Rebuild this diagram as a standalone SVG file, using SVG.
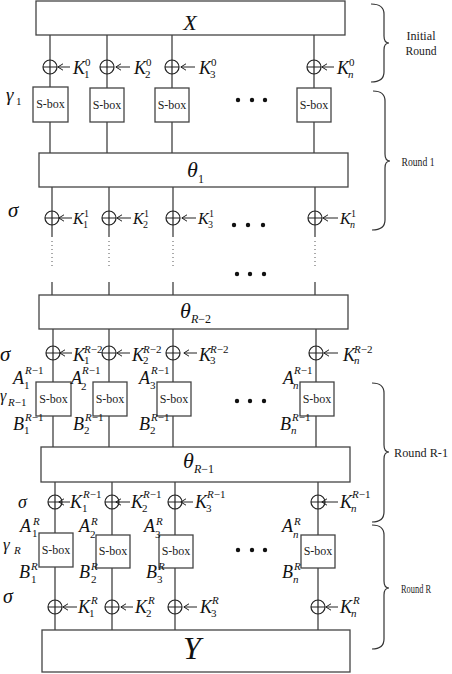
<svg xmlns="http://www.w3.org/2000/svg" width="452" height="674" viewBox="0 0 452 674">
<defs>
<marker id="ah" markerWidth="8" markerHeight="8" refX="1" refY="4" orient="auto" markerUnits="userSpaceOnUse"><path d="M6,0.8 L0.8,4 L6,7.2" fill="none" stroke="#222" stroke-width="1"/></marker>
<style>
.bx{fill:#fff;stroke:#444;stroke-width:1.3}
.ln{stroke:#333;stroke-width:1.2;fill:none}
.dt{stroke:#555;stroke-width:1;stroke-dasharray:1 3;fill:none}
.xc{fill:#fff;stroke:#222;stroke-width:1.2}
.xl{stroke:#222;stroke-width:1.2}
.ar{stroke:#222;stroke-width:1;marker-start:url(#ah)}
.m{font-family:"Liberation Serif",serif;font-style:italic;fill:#111}
.k{font-size:18px}
.s{font-size:11px}
.u{font-style:normal}
.sb{font-family:"Liberation Serif",serif;font-size:12px;fill:#222;text-anchor:middle}
.t{font-family:"Liberation Serif",serif;font-size:13px;fill:#222;text-anchor:middle}
.br{fill:none;stroke:#333;stroke-width:1.2}
.dot{fill:#111}
</style>
</defs>
<rect width="452" height="674" fill="#fff"/>

<g id="connectors">
<path class="ln" d="M50 35V153M107 35V153M172 35V153M314 35V153"/>
<path class="ln" d="M52 187V237M109 187V237M173 187V237M315 187V237"/>
<path class="dt" d="M52 241V268M109 241V268M173 241V268M315 241V268"/>
<path class="ln" d="M52 282V295M109 282V295M173 282V295M315 282V295"/>
<path class="ln" d="M53 329V447M109 329V447M173 329V447M316 329V447"/>
<path class="ln" d="M55 482V630M112 482V630M175 482V630M318 482V630"/>
</g>

<g id="X"><rect class="bx" x="36" y="1" width="309" height="34"/><text class="m" x="190" y="30" font-size="22" text-anchor="middle">X</text></g>
<g id="theta1"><rect class="bx" x="39" y="153" width="309" height="34"/><text class="m" x="187" y="177" font-size="22">θ</text><text class="m u" x="198" y="183" font-size="12">1</text></g>
<g id="thetaR2"><rect class="bx" x="39" y="295" width="309" height="34"/><text class="m" x="180" y="318" font-size="22">θ</text><text class="m" x="191" y="323" font-size="12">R<tspan class="u">−2</tspan></text></g>
<g id="thetaR1"><rect class="bx" x="41" y="447" width="309" height="35"/><text class="m" x="183" y="468" font-size="22">θ</text><text class="m" x="194" y="473" font-size="12">R<tspan class="u">−1</tspan></text></g>
<g id="Y"><rect class="bx" x="42" y="630" width="308" height="42"/><text class="m" x="192" y="659" font-size="32" text-anchor="middle">Y</text></g>

<!-- row 1 XOR -->
<g id="xor0-1"><circle class="xc" cx="50" cy="67" r="7"/><path class="xl" d="M43 67H57M50 60V74"/><line class="ar" x1="58" y1="67" x2="70" y2="67"/><text class="m k" x="73" y="74">K</text><text class="m s u" x="84" y="78">1</text><text class="m s u" x="85" y="66">0</text></g>
<g id="xor0-2"><circle class="xc" cx="107" cy="67" r="7"/><path class="xl" d="M100 67H114M107 60V74"/><line class="ar" x1="116" y1="67" x2="130" y2="67"/><text class="m k" x="134" y="74">K</text><text class="m s u" x="145" y="78">2</text><text class="m s u" x="146" y="66">0</text></g>
<g id="xor0-3"><circle class="xc" cx="172" cy="67" r="7"/><path class="xl" d="M165 67H179M172 60V74"/><line class="ar" x1="181" y1="67" x2="195" y2="67"/><text class="m k" x="199" y="74">K</text><text class="m s u" x="210" y="78">3</text><text class="m s u" x="211" y="66">0</text></g>
<g id="xor0-n"><circle class="xc" cx="314" cy="67" r="7"/><path class="xl" d="M307 67H321M314 60V74"/><line class="ar" x1="322" y1="67" x2="334" y2="67"/><text class="m k" x="337" y="74">K</text><text class="m s" x="348" y="78">n</text><text class="m s u" x="349" y="66">0</text></g>

<!-- row 1 S-boxes -->
<g id="sb1-1"><rect class="bx" x="33" y="87" width="35" height="35"/><text class="sb" x="50.5" y="108">S-box</text></g>
<g id="sb1-2"><rect class="bx" x="90" y="88" width="34" height="34"/><text class="sb" x="107" y="109">S-box</text></g>
<g id="sb1-3"><rect class="bx" x="155" y="88" width="34" height="34"/><text class="sb" x="172" y="109">S-box</text></g>
<g id="sb1-n"><rect class="bx" x="297" y="88" width="34" height="34"/><text class="sb" x="314" y="109">S-box</text></g>
<g id="dots1"><circle class="dot" cx="238" cy="100" r="2.2"/><circle class="dot" cx="252" cy="100" r="2.2"/><circle class="dot" cx="265" cy="100" r="2.2"/></g>
<g id="gamma1"><text class="m" x="6" y="101" font-size="19">γ</text><text class="m s u" x="16" y="105">1</text></g>

<!-- row 2 XOR -->
<g id="sigma1"><text class="m" x="8" y="217" font-size="21">σ</text></g>
<g id="xor1-1"><circle class="xc" cx="52" cy="218" r="7"/><path class="xl" d="M45 218H59M52 211V225"/><line class="ar" x1="59" y1="218" x2="72" y2="218"/><text class="m" x="73" y="224" font-size="16">K</text><text class="m u" x="83" y="228" font-size="10">1</text><text class="m u" x="84" y="217" font-size="10">1</text></g>
<g id="xor1-2"><circle class="xc" cx="109" cy="218" r="7"/><path class="xl" d="M102 218H116M109 211V225"/><line class="ar" x1="117" y1="218" x2="131" y2="218"/><text class="m" x="133" y="224" font-size="16">K</text><text class="m u" x="143" y="228" font-size="10">2</text><text class="m u" x="144" y="217" font-size="10">1</text></g>
<g id="xor1-3"><circle class="xc" cx="173" cy="218" r="7"/><path class="xl" d="M166 218H180M173 211V225"/><line class="ar" x1="182" y1="218" x2="196" y2="218"/><text class="m" x="198" y="224" font-size="16">K</text><text class="m u" x="208" y="228" font-size="10">3</text><text class="m u" x="209" y="217" font-size="10">1</text></g>
<g id="xor1-n"><circle class="xc" cx="315" cy="218" r="7"/><path class="xl" d="M308 218H322M315 211V225"/><line class="ar" x1="323" y1="218" x2="338" y2="218"/><text class="m" x="340" y="224" font-size="16">K</text><text class="m" x="350" y="228" font-size="10">n</text><text class="m u" x="351" y="217" font-size="10">1</text></g>
<g id="dots2"><circle class="dot" cx="234" cy="225" r="2.2"/><circle class="dot" cx="248" cy="225" r="2.2"/><circle class="dot" cx="263" cy="225" r="2.2"/></g>
<g id="dots3"><circle class="dot" cx="237" cy="274" r="2.2"/><circle class="dot" cx="250" cy="274" r="2.2"/><circle class="dot" cx="264" cy="274" r="2.2"/></g>

<!-- row 3 XOR -->
<g id="sigmaR2"><text class="m" x="0" y="361" font-size="21">σ</text></g>
<g id="xorR2-1"><circle class="xc" cx="53" cy="353" r="7"/><path class="xl" d="M46 353H60M53 346V360"/><line class="ar" x1="60" y1="353" x2="72" y2="353"/><text class="m k" x="73" y="361">K</text><text class="m s u" x="84" y="364">1</text><text class="m s" x="84" y="353">R<tspan class="u">−2</tspan></text></g>
<g id="xorR2-2"><circle class="xc" cx="109" cy="353" r="7"/><path class="xl" d="M102 353H116M109 346V360"/><line class="ar" x1="117" y1="353" x2="130" y2="353"/><text class="m k" x="132" y="361">K</text><text class="m s u" x="143" y="364">2</text><text class="m s" x="143" y="353">R<tspan class="u">−2</tspan></text></g>
<g id="xorR2-3"><circle class="xc" cx="173" cy="353" r="7"/><path class="xl" d="M166 353H180M173 346V360"/><line class="ar" x1="184" y1="353" x2="197" y2="353"/><text class="m k" x="199" y="361">K</text><text class="m s u" x="210" y="364">3</text><text class="m s" x="210" y="353">R<tspan class="u">−2</tspan></text></g>
<g id="xorR2-n"><circle class="xc" cx="316" cy="353" r="7"/><path class="xl" d="M309 353H323M316 346V360"/><line class="ar" x1="324" y1="353" x2="338" y2="353"/><text class="m k" x="343" y="361">K</text><text class="m s" x="354" y="364">n</text><text class="m s" x="354" y="353">R<tspan class="u">−2</tspan></text></g>

<!-- row 2 S-boxes -->
<g id="gammaR1"><text class="m" x="0" y="401" font-size="16">γ</text><text class="m s" x="8" y="406">R<tspan class="u">−1</tspan></text></g>
<g id="sb2-1"><rect class="bx" x="36" y="382" width="35" height="34"/><text class="sb" x="53.5" y="403">S-box</text></g>
<g id="sb2-2"><rect class="bx" x="93" y="382" width="34" height="34"/><text class="sb" x="110" y="403">S-box</text></g>
<g id="sb2-3"><rect class="bx" x="157" y="382" width="34" height="34"/><text class="sb" x="174" y="403">S-box</text></g>
<g id="sb2-n"><rect class="bx" x="300" y="382" width="34" height="34"/><text class="sb" x="317" y="403">S-box</text></g>
<g id="dots4"><circle class="dot" cx="237" cy="401" r="2.2"/><circle class="dot" cx="250" cy="401" r="2.2"/><circle class="dot" cx="264" cy="401" r="2.2"/></g>
<g id="A1R1"><text class="m" x="13" y="384" font-size="18">A</text><text class="m s" x="25" y="374">R<tspan class="u">−1</tspan></text><text class="m s u" x="24" y="389">1</text></g>
<g id="A2R1"><text class="m" x="71" y="384" font-size="18">A</text><text class="m s" x="82" y="374">R<tspan class="u">−1</tspan></text><text class="m s u" x="81" y="390">2</text></g>
<g id="A3R1"><text class="m" x="139" y="384" font-size="18">A</text><text class="m s" x="151" y="374">R<tspan class="u">−1</tspan></text><text class="m s u" x="150" y="389">3</text></g>
<g id="AnR1"><text class="m" x="283" y="384" font-size="18">A</text><text class="m s" x="294" y="374">R<tspan class="u">−1</tspan></text><text class="m s" x="293" y="389">n</text></g>
<g id="B1R1"><text class="m" x="13" y="430" font-size="18">B</text><text class="m s" x="25" y="421">R<tspan class="u">−1</tspan></text><text class="m s u" x="24" y="434">1</text></g>
<g id="B2R1"><text class="m" x="73" y="430" font-size="18">B</text><text class="m s" x="85" y="421">R<tspan class="u">−1</tspan></text><text class="m s u" x="84" y="434">2</text></g>
<g id="B3R1"><text class="m" x="139" y="430" font-size="18">B</text><text class="m s" x="151" y="421">R<tspan class="u">−1</tspan></text><text class="m s u" x="150" y="434">2</text></g>
<g id="BnR1"><text class="m" x="280" y="430" font-size="18">B</text><text class="m s" x="292" y="421">R<tspan class="u">−1</tspan></text><text class="m s" x="291" y="434">n</text></g>

<!-- row 4 XOR -->
<g id="sigmaR1"><text class="m" x="18" y="508" font-size="18">σ</text></g>
<g id="xorR1-1"><circle class="xc" cx="55" cy="502" r="7"/><path class="xl" d="M48 502H62M55 495V509"/><line class="ar" x1="59" y1="502" x2="70" y2="502"/><text class="m k" x="70" y="508">K</text><text class="m s u" x="82" y="512">1</text><text class="m s" x="83" y="498">R<tspan class="u">−1</tspan></text></g>
<g id="xorR1-2"><circle class="xc" cx="112" cy="502" r="7"/><path class="xl" d="M105 502H119M112 495V509"/><line class="ar" x1="116" y1="502" x2="130" y2="502"/><text class="m k" x="131" y="508">K</text><text class="m s u" x="142" y="512">2</text><text class="m s" x="143" y="498">R<tspan class="u">−1</tspan></text></g>
<g id="xorR1-3"><circle class="xc" cx="175" cy="502" r="7"/><path class="xl" d="M168 502H182M175 495V509"/><line class="ar" x1="181" y1="502" x2="193" y2="502"/><text class="m k" x="195" y="508">K</text><text class="m s u" x="206" y="512">3</text><text class="m s" x="207" y="498">R<tspan class="u">−1</tspan></text></g>
<g id="xorR1-n"><circle class="xc" cx="318" cy="502" r="7"/><path class="xl" d="M311 502H325M318 495V509"/><line class="ar" x1="322" y1="502" x2="338" y2="502"/><text class="m k" x="340" y="508">K</text><text class="m s" x="351" y="512">n</text><text class="m s" x="352" y="498">R<tspan class="u">−1</tspan></text></g>

<!-- row 3 S-boxes -->
<g id="gammaR"><text class="m" x="3" y="550" font-size="17">γ</text><text class="m s" x="14" y="554">R</text></g>
<g id="sb3-1"><rect class="bx" x="39" y="533" width="34" height="34"/><text class="sb" x="56" y="554">S-box</text></g>
<g id="sb3-2"><rect class="bx" x="96" y="535" width="34" height="33"/><text class="sb" x="113" y="555">S-box</text></g>
<g id="sb3-3"><rect class="bx" x="159" y="535" width="34" height="33"/><text class="sb" x="176" y="555">S-box</text></g>
<g id="sb3-n"><rect class="bx" x="301" y="535" width="34" height="33"/><text class="sb" x="318" y="555">S-box</text></g>
<g id="dots5"><circle class="dot" cx="238" cy="550" r="2.2"/><circle class="dot" cx="252" cy="550" r="2.2"/><circle class="dot" cx="265" cy="550" r="2.2"/></g>
<g id="A1R"><text class="m" x="20" y="532" font-size="18">A</text><text class="m s" x="33" y="525">R</text><text class="m s u" x="32" y="537">1</text></g>
<g id="A2R"><text class="m" x="79" y="532" font-size="18">A</text><text class="m s" x="91" y="525">R</text><text class="m s u" x="90" y="538">2</text></g>
<g id="A3R"><text class="m" x="144" y="532" font-size="18">A</text><text class="m s" x="156" y="525">R</text><text class="m s u" x="155" y="538">3</text></g>
<g id="AnR"><text class="m" x="282" y="532" font-size="18">A</text><text class="m s" x="294" y="525">R</text><text class="m s" x="293" y="538">n</text></g>
<g id="B1R"><text class="m" x="19" y="578" font-size="18">B</text><text class="m s" x="31" y="570">R</text><text class="m s u" x="31" y="583">1</text></g>
<g id="B2R"><text class="m" x="79" y="578" font-size="18">B</text><text class="m s" x="91" y="570">R</text><text class="m s u" x="91" y="583">2</text></g>
<g id="B3R"><text class="m" x="146" y="578" font-size="18">B</text><text class="m s" x="158" y="570">R</text><text class="m s u" x="157" y="583">3</text></g>
<g id="BnR"><text class="m" x="282" y="578" font-size="18">B</text><text class="m s" x="294" y="570">R</text><text class="m s" x="293" y="583">n</text></g>

<!-- row 5 XOR -->
<g id="sigmaR"><text class="m" x="3" y="603" font-size="20">σ</text></g>
<g id="xorR-1"><circle class="xc" cx="55" cy="607" r="7"/><path class="xl" d="M48 607H62M55 600V614"/><line class="ar" x1="63" y1="607" x2="77" y2="607"/><text class="m k" x="78" y="613">K</text><text class="m s u" x="89" y="617">1</text><text class="m s" x="91" y="604">R</text></g>
<g id="xorR-2"><circle class="xc" cx="112" cy="607" r="7"/><path class="xl" d="M105 607H119M112 600V614"/><line class="ar" x1="121" y1="607" x2="133" y2="607"/><text class="m k" x="135" y="613">K</text><text class="m s u" x="146" y="617">2</text><text class="m s" x="148" y="604">R</text></g>
<g id="xorR-3"><circle class="xc" cx="175" cy="607" r="7"/><path class="xl" d="M168 607H182M175 600V614"/><line class="ar" x1="184" y1="607" x2="197" y2="607"/><text class="m k" x="200" y="613">K</text><text class="m s u" x="211" y="617">3</text><text class="m s" x="212" y="604">R</text></g>
<g id="xorR-n"><circle class="xc" cx="318" cy="607" r="7"/><path class="xl" d="M311 607H325M318 600V614"/><line class="ar" x1="326" y1="607" x2="338" y2="607"/><text class="m k" x="340" y="613">K</text><text class="m s" x="351" y="617">n</text><text class="m s" x="353" y="604">R</text></g>

<!-- braces -->
<g id="brace-initial"><path class="br" d="M371 4Q384 4 384 14V36Q384 43 389 43Q384 43 384 50V72Q384 82 371 82"/><text class="t" x="421" y="40" textLength="29" lengthAdjust="spacingAndGlyphs">Initial</text><text class="t" x="421" y="55" textLength="31" lengthAdjust="spacingAndGlyphs">Round</text></g>
<g id="brace-round1"><path class="br" d="M373 91Q385 91 385 101V154Q385 161 390 161Q385 161 385 168V220Q385 230 372 230"/><text class="t" x="418" y="166" textLength="33" lengthAdjust="spacingAndGlyphs">Round 1</text></g>
<g id="brace-roundR1"><path class="br" d="M372 383Q384 383 384 393V445Q384 452 389 452Q384 452 384 459V512Q384 522 372 522"/><text class="t" x="421" y="457" textLength="54" lengthAdjust="spacingAndGlyphs">Round R-1</text></g>
<g id="brace-roundR"><path class="br" d="M372 525Q384 525 384 535V581Q384 588 389 588Q384 588 384 595V639Q384 649 372 649"/><text class="t" x="416" y="593" textLength="30" lengthAdjust="spacingAndGlyphs">Round R</text></g>
</svg>
